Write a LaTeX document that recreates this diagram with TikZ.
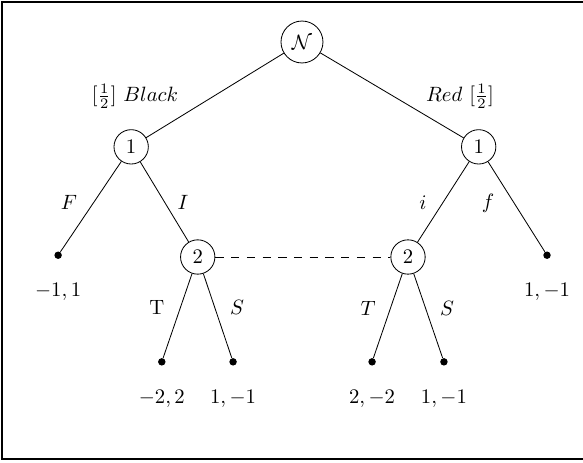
\documentclass[tikz,border=0pt]{standalone}
\usepackage{amsmath,amssymb}
\usepackage{tikz}
\usetikzlibrary{positioning}

\begin{document}
\begin{tikzpicture}[
    player/.style={circle, draw, inner sep=3pt},
    leaf/.style={circle, fill, inner sep=0pt, minimum size=3.6pt},
    info/.style={dash pattern=on 4pt off 3.6pt},
    payoff/.style={below=8pt of #1}
]

    % --- Canvas & frame ---
    \useasboundingbox (-5.127, -7.131) rectangle (4.771, 0.713);
    \draw[line width=1pt] (4.9, 0.679) -- (-5.093, 0.679) -- (-5.093, -7.08) -- (4.9, -7.08);

    % --- Decision nodes ---
    \node[player] (nat) at (0, 0) {$\mathcal{N}$};
    \node[player] (blackA) at (-2.90, -1.78) {$1$};
    \node[player] (redA) at (3.00, -1.78) {$1$};
    \node[player] (blackB) at (-1.77, -3.65) {$2$};
    \node[player] (redB) at (1.80, -3.65) {$2$};

    % --- Terminal nodes ---
    \node[leaf] (fold) at (-4.14, -3.62) {};
    \node[leaf] (foldr) at (4.16, -3.62) {};
    \node[leaf] (bT) at (-2.38, -5.43) {};
    \node[leaf] (bS) at (-1.17, -5.43) {};
    \node[leaf] (rT) at (1.19, -5.43) {};
    \node[leaf] (rS) at (2.41, -5.43) {};

    % --- Payoffs ---
    \node[payoff=fold] (pF) {$-1, 1$};
    \node[payoff=foldr] (pf) {$1, -1$};
    \node[payoff=bT] (pbT) {$-2, 2$};
    \node[payoff=bS] (pbS) {$1, -1$};
    \node[payoff=rT] (prT) {$2, -2$};
    \node[payoff=rS] (prS) {$1, -1$};

    % --- Branches ---
    \draw (nat) -- (blackA);
    \draw (nat) -- (redA);
    \draw (blackA) -- (fold);
    \draw (blackA) -- (blackB);
    \draw (redA) -- (redB);
    \draw (redA) -- (foldr);
    \draw (blackB) -- (bT);
    \draw (blackB) -- (bS);
    \draw (redB) -- (rT);
    \draw (redB) -- (rS);

    % information set of player 2
    \draw[info] (blackB) -- (redB);

    % --- Branch labels ---
    \node (lBlack) at (-2.835, -0.917) {$[\frac{1}{2}]\ Black$};
    \node (lRed) at (2.683, -0.917) {$Red\ [\frac{1}{2}]$};
    \node (lF) at (-3.956, -2.716) {$F$};
    \node (lI) at (-2.020, -2.716) {$I$};
    \node (li) at (2.054, -2.733) {$i$};
    \node (lf) at (3.158, -2.733) {$f$};
    \node (lbT) at (-2.462, -4.499) {T};
    \node (lbS) at (-1.104, -4.499) {$S$};
    \node (lrT) at (1.121, -4.516) {$T$};
    \node (lrS) at (2.462, -4.516) {$S$};

\end{tikzpicture}
\end{document}
